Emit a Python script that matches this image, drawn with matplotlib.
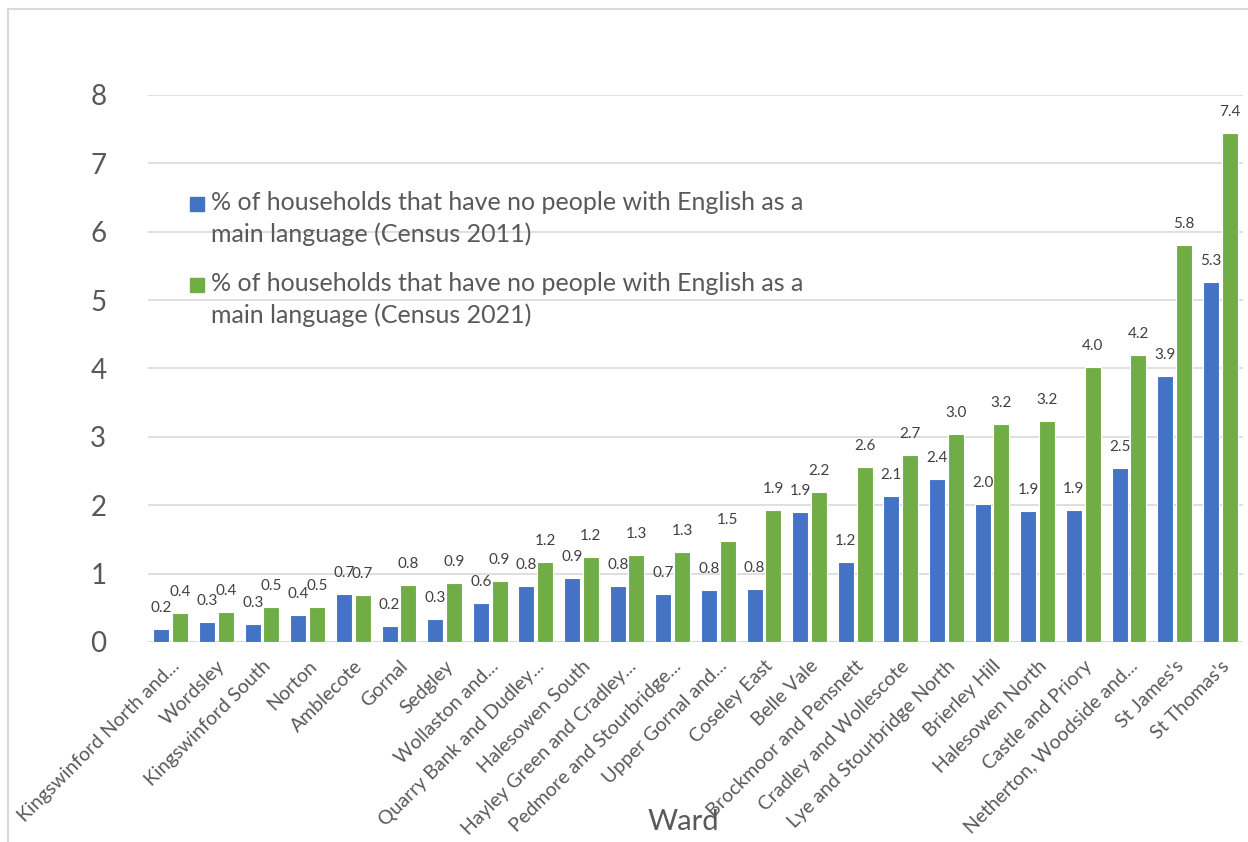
import numpy as np
import matplotlib.pyplot as plt
from matplotlib.lines import Line2D
from matplotlib.patches import Rectangle

plt.rcParams['font.family'] = ['Lato', 'DejaVu Sans']

wards = ['Kingswinford North and...', 'Wordsley', 'Kingswinford South', 'Norton',
         'Amblecote', 'Gornal', 'Sedgley', 'Wollaston and...',
         'Quarry Bank and Dudley...', 'Halesowen South', 'Hayley Green and Cradley...',
         'Pedmore and Stourbridge...', 'Upper Gornal and...', 'Coseley East',
         'Belle Vale', 'Brockmoor and Pensnett', 'Cradley and Wollescote',
         'Lye and Stourbridge North', 'Brierley Hill', 'Halesowen North',
         'Castle and Priory', 'Netherton, Woodside and...', "St James's", "St Thomas's"]

pct_2011 = [0.19, 0.29, 0.26, 0.39, 0.70, 0.23, 0.34, 0.57, 0.82, 0.94, 0.82, 0.70,
            0.76, 0.78, 1.90, 1.17, 2.13, 2.38, 2.02, 1.92, 1.93, 2.54, 3.89, 5.26]
pct_2021 = [0.42, 0.44, 0.51, 0.51, 0.69, 0.84, 0.86, 0.89, 1.17, 1.24, 1.27, 1.32,
            1.48, 1.93, 2.19, 2.56, 2.73, 3.04, 3.19, 3.23, 4.02, 4.20, 5.81, 7.44]

label_2011 = '% of households that have no people with English as a\nmain language (Census 2011)'
label_2021 = '% of households that have no people with English as a\nmain language (Census 2021)'

blue = '#4472C4'
green = '#70AD47'
grey_txt = '#595959'
grid_c = '#d9d9d9'

W, H = 1248, 842
fig = plt.figure(figsize=(W / 100, H / 100), dpi=100)
ax = fig.add_axes([148 / W, 1 - 642 / H, (1243 - 148) / W, (642 - 95) / H])

x = np.arange(len(wards))
bw = 0.35
off = 0.205
b1 = ax.bar(x - off, pct_2011, bw, color=blue, edgecolor='white', linewidth=0.8, zorder=3)
b2 = ax.bar(x + off, pct_2021, bw, color=green, edgecolor='white', linewidth=0.8, zorder=3)

for bars, vals in ((b1, pct_2011), (b2, pct_2021)):
    for r, v in zip(bars, vals):
        ax.annotate(f'{v:.1f}', (r.get_x() + r.get_width() / 2, v),
                    xytext=(0, 10), textcoords='offset points',
                    ha='center', va='bottom', fontsize=11, color='#404040', zorder=4)

ax.set_xlim(-0.5, len(wards) - 0.5)
ax.set_ylim(0, 8)
ax.set_yticks(range(0, 9))
ax.yaxis.grid(True, color=grid_c, linewidth=1.2, zorder=0)
ax.axhline(0, color=grid_c, linewidth=1.8, zorder=2)
for s in ax.spines.values():
    s.set_visible(False)
ax.tick_params(axis='both', length=0)
ax.tick_params(axis='y', labelsize=20, labelcolor=grey_txt, pad=30)
ax.set_xticks(x)
ax.set_xticklabels(wards, rotation=45, ha='right', va='top', rotation_mode='anchor',
                   fontsize=14, color=grey_txt)
ax.tick_params(axis='x', pad=11)

fig.text(683 / W, 1 - 822 / H, 'Ward', ha='center', va='center', fontsize=21, color=grey_txt)

# legend drawn by hand so the swatch sits on the first line
for ytop, col, lab in ((204, blue, label_2011), (285, green, label_2021)):
    fig.add_artist(Rectangle((190 / W, 1 - (ytop + 7) / H), 14 / W, 14 / H,
                             transform=fig.transFigure, color=col))
    fig.text(211 / W, 1 - (ytop - 13) / H, lab, ha='left', va='top', fontsize=18,
             color=grey_txt, linespacing=1.45)

# chart frame
fig.add_artist(Line2D([8 / W, 8 / W], [0, 1 - 9 / H], color=grid_c, linewidth=1.5))
fig.add_artist(Line2D([8 / W, 1], [1 - 9 / H, 1 - 9 / H], color=grid_c, linewidth=1.5))

fig.savefig('out.png', dpi=100, facecolor='white')
